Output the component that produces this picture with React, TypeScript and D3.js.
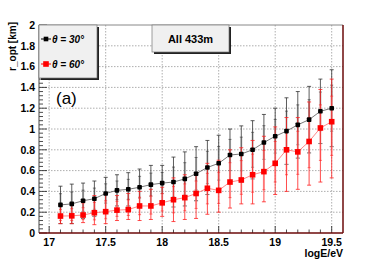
import React from "react";
import * as d3 from "d3";

// logE/eV bins
const logE = [17.1, 17.2, 17.3, 17.4, 17.5, 17.6, 17.7, 17.8, 17.9, 18.0, 18.1, 18.2, 18.3,
  18.4, 18.5, 18.6, 18.7, 18.8, 18.9, 19.0, 19.1, 19.2, 19.3, 19.4, 19.5];

// theta = 30 deg
const r30 = [0.27, 0.28, 0.31, 0.33, 0.38, 0.41, 0.42, 0.44, 0.465, 0.48, 0.49, 0.52, 0.57,
  0.63, 0.67, 0.75, 0.76, 0.80, 0.87, 0.93, 0.98, 1.04, 1.09, 1.17, 1.20];
const err30 = [0.18, 0.19, 0.17, 0.17, 0.155, 0.15, 0.16, 0.175, 0.185, 0.17, 0.24, 0.26, 0.26,
  0.26, 0.27, 0.25, 0.27, 0.28, 0.27, 0.27, 0.32, 0.32, 0.32, 0.31, 0.37];

// theta = 60 deg
const r60 = [0.163, 0.165, 0.173, 0.195, 0.205, 0.22, 0.225, 0.26, 0.26, 0.29, 0.32, 0.34, 0.38,
  0.43, 0.41, 0.49, 0.51, 0.56, 0.59, 0.67, 0.80, 0.78, 0.88, 1.01, 1.07];
const hi60 = [0.27, 0.28, 0.29, 0.36, 0.38, 0.36, 0.38, 0.40, 0.42, 0.44, 0.53, 0.56, 0.58,
  0.67, 0.70, 0.80, 0.82, 0.89, 0.93, 1.02, 1.11, 1.11, 1.26, 1.38, 1.48];
const lo60 = [0.09, 0.09, 0.10, 0.08, 0.09, 0.12, 0.13, 0.12, 0.13, 0.16, 0.11, 0.13, 0.14,
  0.18, 0.20, 0.24, 0.28, 0.28, 0.30, 0.37, 0.40, 0.42, 0.46, 0.49, 0.53];

const xTickLabels = ["17", "17.5", "18", "18.5", "19", "19.5"];
const yTickLabels = ["0", "0.2", "0.4", "0.6", "0.8", "1", "1.2", "1.4", "1.6", "1.8", "2"];

const W = 382;
const H = 259;
const left = 39, right = 343, top = 25, bottom = 233;
const font = "'Liberation Sans', Arial, Helvetica, sans-serif";

export default function App() {
  const x = d3.scaleLinear().domain([16.91, 19.6]).range([left, right]);
  const y = d3.scaleLinear().domain([0, 2]).range([bottom, top]);

  const xMinor = d3.range(170, 196).map(v => v / 10);
  const yMinor = d3.range(0, 51).map(v => v * 0.04);

  const line = d3.line<number>().x((d, i) => x(logE[i])).y(d => y(d));

  const bar = (i: number, v: number, up: number, dn: number, dark: string, light: string, key: string) => {
    const cx = x(logE[i]);
    const inUp = v + (up - v) * 0.6;
    const inDn = v - (v - dn) * 0.6;
    return (
      <g key={key}>
        <line x1={cx} x2={cx} y1={y(inUp)} y2={y(inDn)} stroke={light} strokeWidth={2.2} opacity={0.6} />
        <line x1={cx} x2={cx} y1={y(up)} y2={y(dn)} stroke={dark} strokeWidth={0.8} />
        {[up, dn].map((t, k) => (
          <line key={"o" + k} x1={cx - 2} x2={cx + 2} y1={y(t)} y2={y(t)} stroke={dark} strokeWidth={0.8} />
        ))}
        {[inUp, inDn].map((t, k) => (
          <line key={"i" + k} x1={cx - 1.5} x2={cx + 1.5} y1={y(t)} y2={y(t)} stroke={dark} strokeWidth={0.6} />
        ))}
      </g>
    );
  };

  return (
    <svg width={W} height={H} style={{ position: "absolute", left: 0, top: 0, background: "#fff" }}
      fontFamily={font}>
      {/* grid */}
      {xTickLabels.map(t => (
        <line key={"gx" + t} x1={x(+t)} x2={x(+t)} y1={top} y2={bottom} stroke="#999" strokeWidth={0.8} strokeDasharray="1.5,1.5" />
      ))}
      {yTickLabels.slice(1, 10).map(t => (
        <line key={"gy" + t} x1={left} x2={right} y1={y(+t)} y2={y(+t)} stroke="#999" strokeWidth={0.8} strokeDasharray="1.5,1.5" />
      ))}

      {/* ticks */}
      {xMinor.map((v, i) => {
        const major = Math.abs(v * 2 - Math.round(v * 2)) < 1e-6;
        return <line key={"tx" + i} x1={x(v)} x2={x(v)} y1={bottom} y2={bottom - (major ? 7 : 3.5)} stroke="#000" strokeWidth={0.7} />;
      })}
      {yMinor.map((v, i) => {
        const major = i % 5 === 0;
        return <line key={"ty" + i} x1={left} x2={left + (major ? 8 : 4)} y1={y(v)} y2={y(v)} stroke="#000" strokeWidth={0.7} />;
      })}

      {/* frame */}
      <line x1={left} x2={right} y1={top} y2={top} stroke="#888" strokeWidth={1} />
      <line x1={left} x2={left} y1={top} y2={bottom} stroke="#444" strokeWidth={1} />
      <line x1={right} x2={right} y1={top} y2={bottom} stroke="#6b0a0a" strokeWidth={1.5} />
      <line x1={left} x2={right} y1={bottom} y2={bottom} stroke="#6b0a0a" strokeWidth={1.5} />

      {/* error bars */}
      {logE.map((_, i) => bar(i, r30[i], r30[i] + err30[i], r30[i] - err30[i], "#333", "#aaa", "b" + i))}
      {logE.map((_, i) => bar(i, r60[i], hi60[i], lo60[i], "#ff2020", "#ffa0a0", "r" + i))}

      {/* lines and markers */}
      <path d={line(r30) || ""} fill="none" stroke="#555" strokeWidth={0.8} />
      <path d={line(r60) || ""} fill="none" stroke="#ff6a6a" strokeWidth={0.8} />
      {r30.map((v, i) => (
        <rect key={"m30" + i} x={x(logE[i]) - 2.3} y={y(v) - 2.3} width={4.6} height={4.6} rx={0.8} fill="#000" />
      ))}
      {r60.map((v, i) => (
        <rect key={"m60" + i} x={x(logE[i]) - 2.8} y={y(v) - 2.8} width={5.6} height={5.6} fill="#ff0000" />
      ))}

      {/* tick labels */}
      {xTickLabels.map(t => (
        <text key={"lx" + t} x={x(+t)} y={246} textAnchor="middle" fontSize={10.5} fontWeight="bold">{t}</text>
      ))}
      {yTickLabels.map(t => (
        <text key={"ly" + t} x={35} y={y(+t) + 3.8} textAnchor="end" fontSize={10.5} fontWeight="bold">{t}</text>
      ))}

      {/* axis titles */}
      <text x={right} y={257} textAnchor="end" fontSize={10.5} fontWeight="bold">logE/eV</text>
      <text transform={`translate(16,22) rotate(-90)`} textAnchor="end" fontSize={10} fontWeight="bold">r_opt [km]</text>

      {/* legend */}
      <rect x={41} y={27} width={58} height={53} fill="#222" />
      <rect x={39} y={25} width={58} height={53} fill="#f0f0f0" stroke="#777" strokeWidth={0.7} />
      <line x1={41} x2={51} y1={39} y2={39} stroke="#000" strokeWidth={1} />
      <rect x={43.7} y={36.7} width={4.6} height={4.6} fill="#000" />
      <text x={52} y={42.5} fontSize={10} fontWeight="bold" fontStyle="italic">θ = 30°</text>
      <line x1={41} x2={51} y1={64} y2={64} stroke="#ff0000" strokeWidth={1} />
      <rect x={43.2} y={61.2} width={5.6} height={5.6} fill="#ff0000" />
      <text x={52} y={67.5} fontSize={10} fontWeight="bold" fontStyle="italic">θ = 60°</text>

      {/* title pave */}
      <rect x={154} y={27} width={77} height={27} fill="#222" />
      <rect x={152} y={25} width={77} height={27} fill="#f0f0f0" stroke="#777" strokeWidth={0.7} />
      <text x={190.5} y={43} textAnchor="middle" fontSize={11} fontWeight="bold">All 433m</text>

      <text x={56} y={104} fontSize={17}>(a)</text>
    </svg>
  );
}
